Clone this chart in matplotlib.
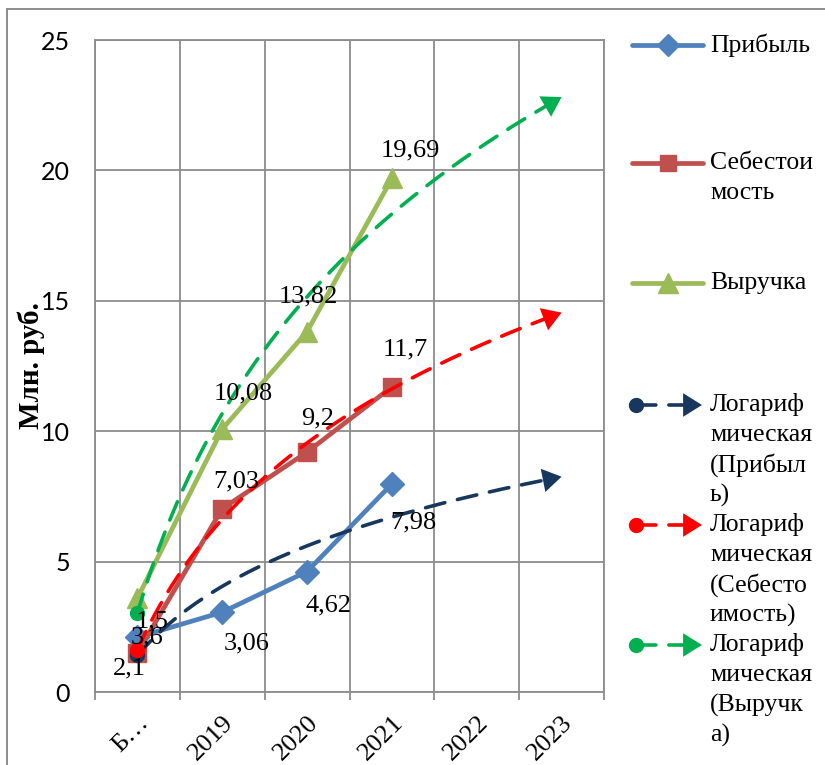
import numpy as np
import matplotlib

matplotlib.use("Agg")
import matplotlib.pyplot as plt
from matplotlib.lines import Line2D
from matplotlib.patches import Rectangle, FancyArrowPatch

W, H = 825, 765

CATEGORIES = ["Б…", "2019", "2020", "2021", "2022", "2023"]
PROFIT = [2.1, 3.06, 4.62, 7.98]
COST = [1.5, 7.03, 9.2, 11.7]
REVENUE = [3.6, 10.08, 13.82, 19.69]

SERIES_NAMES = ["Прибыль", "Себестоимость", "Выручка"]
LEGEND_LINES = [
    ["Прибыль"],
    ["Себестои", "мость"],
    ["Выручка"],
    ["Логариф", "мическая", "(Прибыл", "ь)"],
    ["Логариф", "мическая", "(Себесто", "имость)"],
    ["Логариф", "мическая", "(Выручк", "а)"],
]

SERIF = "Liberation Serif"
GRID = "#8c8c8c"
ARROW = "-|>,head_length=0.8,head_width=0.5"

# label offsets in pixels (dx right, dy down) for each point
PROFIT_OFFS = [(-8, 31), (24, 31), (21, 34), (21, 39)]
COST_OFFS = [(15, -31), (14, -27), (11, -34), (13, -37)]
REVENUE_OFFS = [(10, 39), (21, -36), (1, -35), (18, -28)]

STYLES = [
    {"color": "#4F81BD", "marker": "D", "ms": 12, "trend": "#17375E", "offs": PROFIT_OFFS},
    {"color": "#C0504D", "marker": "s", "ms": 13, "trend": "#FF0000", "offs": COST_OFFS},
    {"color": "#9BBB59", "marker": "^", "ms": 15, "trend": "#00B050", "offs": REVENUE_OFFS},
]


def fx(x):
    return x / W


def fy(y):
    return 1 - y / H


def fmt(v):
    return "{:g}".format(v).replace(".", ",")


def draw_trend(ax, values, color):
    # logarithmic trend y = a*ln(t) + b over t = 1..n, forecast to the last category
    t = np.arange(1, len(values) + 1)
    a, b = np.polyfit(np.log(t), values, 1)
    t_end = len(CATEGORIES)
    tt = np.linspace(1, t_end - 0.12, 200)
    line, = ax.plot(tt - 1, a * np.log(tt) + b, color=color, lw=2.6, zorder=6,
                    dash_capstyle="round")
    line.set_dashes([5.5, 3.6])
    ax.plot([0], [b], "o", color=color, ms=10, zorder=6)
    t0 = t_end - 0.2
    ax.annotate("", xy=(t_end - 1, a * np.log(t_end) + b), xytext=(t0 - 1, a * np.log(t0) + b),
                arrowprops=dict(arrowstyle=ARROW, color=color, lw=0, mutation_scale=17,
                                shrinkA=0, shrinkB=0), zorder=7)


fig = plt.figure(figsize=(W / 100, H / 100), dpi=100)
ax = fig.add_axes([fx(95), fy(692), fx(604) - fx(95), fy(40) - fy(692)])

x = np.arange(len(PROFIT))
for name, values, st in zip(SERIES_NAMES, [PROFIT, COST, REVENUE], STYLES):
    ax.plot(x, values, color=st["color"], lw=3.4, marker=st["marker"], ms=st["ms"],
            solid_capstyle="round", zorder=4, label=name)
    for xi, v, (dx, dy) in zip(x, values, st["offs"]):
        ax.annotate(fmt(v), (xi, v), xytext=(dx, -dy), textcoords="offset pixels",
                    ha="center", va="center", family=SERIF, fontsize=19, zorder=8)

for values, st in zip([PROFIT, COST, REVENUE], STYLES):
    draw_trend(ax, values, st["trend"])

ax.set_xlim(-0.5, len(CATEGORIES) - 0.5)
ax.set_ylim(0, 25)
ax.set_yticks(np.arange(0, 26, 5))
ax.set_xticks(np.arange(len(CATEGORIES)))
ax.set_xticks(np.arange(len(CATEGORIES) + 1) - 0.5, minor=True)
ax.set_xticklabels(CATEGORIES, rotation=45, ha="right", rotation_mode="anchor",
                   family=SERIF, fontsize=19)
ax.tick_params(axis="x", which="major", length=0, pad=14)
ax.tick_params(axis="x", which="minor", length=6, width=1.3, color=GRID, direction="out")
ax.tick_params(axis="y", length=0, pad=18, labelsize=18)
for lab in ax.get_yticklabels():
    lab.set_family("Lato")
ax.grid(True, axis="y", color=GRID, lw=1.3)
ax.grid(True, axis="x", which="minor", color=GRID, lw=1.3)
for sp in ax.spines.values():
    sp.set_color(GRID)
    sp.set_linewidth(1.3)

fig.text(fx(31), fy(366), "Млн. руб.", rotation=90, ha="center", va="center",
         family=SERIF, fontsize=21, fontweight="bold")

# outer chart border
fig.add_artist(Rectangle((fx(7), -0.05), 1.5, fy(9) + 0.05, transform=fig.transFigure,
                         fill=False, edgecolor=GRID, lw=1.4))

# legend, drawn by hand
legend_y = [45, 163, 283, 405, 525, 645]
for i, (lines, y) in enumerate(zip(LEGEND_LINES, legend_y)):
    if i < 3:
        st = STYLES[i]
        fig.add_artist(Line2D([fx(632), fx(703)], [fy(y), fy(y)], color=st["color"], lw=3.4,
                              solid_capstyle="round", transform=fig.transFigure))
        fig.add_artist(Line2D([fx(668)], [fy(y)], marker=st["marker"], ms=st["ms"] - 1,
                              color=st["color"], transform=fig.transFigure))
    else:
        c = STYLES[i - 3]["trend"]
        dl = Line2D([fx(636), fx(686)], [fy(y), fy(y)], color=c, lw=2.6,
                    dash_capstyle="round", transform=fig.transFigure)
        dl.set_dashes([5.5, 3.6])
        fig.add_artist(dl)
        fig.add_artist(Line2D([fx(636)], [fy(y)], marker="o", ms=10, color=c,
                              transform=fig.transFigure))
        fig.add_artist(FancyArrowPatch((fx(686), fy(y)), (fx(702), fy(y)), transform=fig.transFigure,
                                       arrowstyle=ARROW, mutation_scale=17, color=c, lw=0,
                                       shrinkA=0, shrinkB=0))
    for j, txt in enumerate(lines):
        fig.text(fx(710), fy(y + j * 30), txt, ha="left", va="center", family=SERIF, fontsize=18.5)

fig.savefig("out.png", dpi=100)
